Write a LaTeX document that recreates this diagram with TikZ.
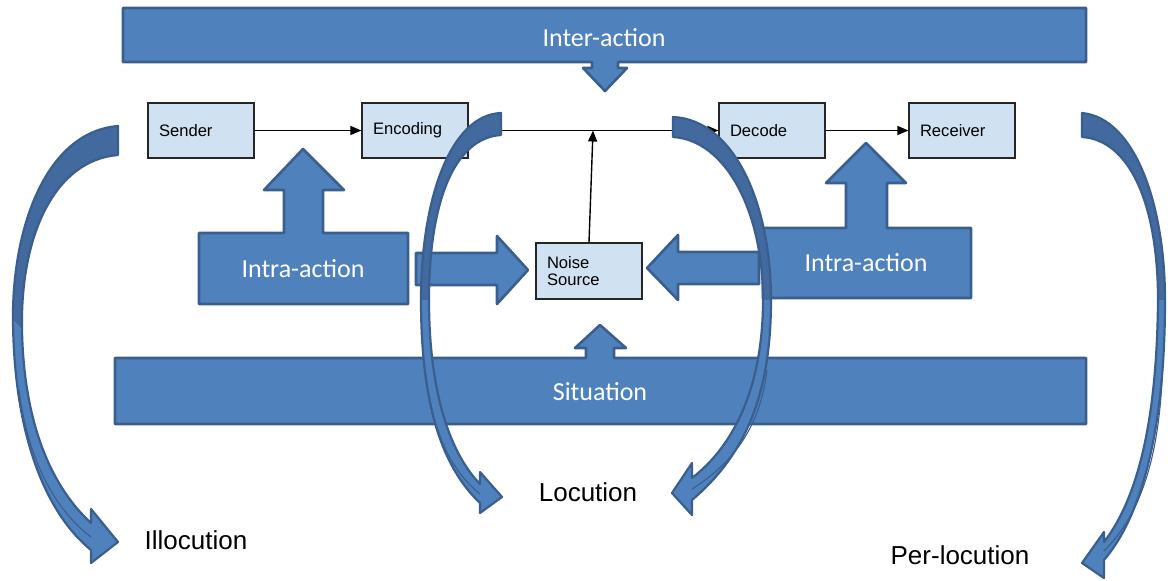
\documentclass[tikz,border=0pt]{standalone}
\usepackage{fontspec}
\setmainfont{Liberation Sans}
\newfontfamily\calibri{Carlito}
\usetikzlibrary{arrows.meta}
\definecolor{bfill}{HTML}{4F81BD}
\definecolor{bline}{HTML}{3A5F8E}
\definecolor{bdark}{HTML}{426A9F}
\definecolor{boxfill}{HTML}{D0E1F2}
\tikzset{
  blueshape/.style={fill=bfill, draw=bline, line width=2.6pt, line join=round},
  outlinepath/.style={draw=bline, line width=2.2pt, line join=round},
  foldline/.style={draw=bline, line width=1.1pt},
  procbox/.style={draw=black!85, fill=boxfill, line width=1.2pt, minimum width=106pt,
    minimum height=55pt, text width=84pt, align=left, inner sep=0pt,
    font=\fontsize{16.6}{18}\selectfont},
  whitelbl/.style={text=white, font=\calibri\fontsize{26}{28}\selectfont},
  blacklbl/.style={text=black, font=\fontsize{26}{28}\selectfont},
  conn/.style={line width=1.4pt, -{Triangle[length=11pt,width=9pt]}}
}
\begin{document}
\begin{tikzpicture}[x=1pt,y=-1pt]
\useasboundingbox (0,0) rectangle (1168,581);
\fill[white] (0,0) rectangle (1168,581);

% process boxes
\node[procbox] (sender)   at (201,130.5) {Sender};
\node[procbox] (encoding) at (415,130.5) {Encoding};
\node[procbox] (decode)   at (772,130.5) {Decode};
\node[procbox] (receiver) at (962,130.5) {Receiver};
\node[procbox, minimum height=56pt, font=\fontsize{16.6}{17.5}\selectfont] (noise) at (589,271) {Noise\\Source};
\coordinate (nj) at (593,130.5);

\draw[conn] (sender) -- (encoding);
\draw[conn] (encoding) -- (decode);
\draw[conn] (decode) -- (receiver);
\draw[conn] (noise.north) -- (nj);

% Inter-action bar with down arrow
\draw[blueshape] (123,8) -- (1086,8) -- (1086,62) -- (618,62) -- (618,68) -- (627,68)
  -- (605,91) -- (583,68) -- (592,68) -- (592,62) -- (123,62) -- cycle;
\node[whitelbl] (inter) at (604,38) {Inter-action};

% Situation bar with up arrow
\draw[blueshape] (115,358) -- (586,358) -- (586,348) -- (575,348) -- (600,325) -- (626,348)
  -- (614,348) -- (614,358) -- (1086,358) -- (1086,424) -- (115,424) -- cycle;
\node[whitelbl] (situation) at (600,392) {Situation};

% left Intra-action
\draw[blueshape] (199,233) -- (284,233) -- (284,190) -- (264,190) -- (303,149) -- (344,190)
  -- (323,190) -- (323,233) -- (408,233) -- (408,304) -- (199,304) -- cycle;
\node[whitelbl] (intraL) at (303,269) {Intra-action};
\draw[blueshape] (416,253) -- (497,253) -- (497,236) -- (528,270) -- (497,304) -- (497,285)
  -- (416,285) -- cycle;

% right Intra-action
\draw[blueshape] (763,228) -- (846,228) -- (846,183) -- (826,183) -- (866,143) -- (906,183)
  -- (887,183) -- (887,228) -- (971,228) -- (971,298) -- (763,298) -- cycle;
\node[whitelbl] (intraR) at (866,263) {Intra-action};
\draw[blueshape] (759,252) -- (678,252) -- (678,235) -- (647,268) -- (678,300) -- (678,284)
  -- (759,284) -- cycle;

% curved arrow 1 (Illocution)
\fill[bdark] (118,126) .. controls (45,132) and (12,230) .. (13,320) -- (22,330)
  .. controls (20,235) and (55,160) .. (118,155) -- cycle;
\fill[bfill] (13,320) .. controls (14,440) and (48,515) .. (91,550) -- (91,563) -- (118,542)
  -- (91,509) -- (91,523) .. controls (55,490) and (24,430) .. (22,330) -- cycle;
\draw[foldline] (19,390) .. controls (28,460) and (55,510) .. (91,537);
\draw[outlinepath] (118,126) .. controls (45,132) and (12,230) .. (13,320)
  .. controls (14,440) and (48,515) .. (91,550) -- (91,563) -- (118,542) -- (91,509) -- (91,523)
  .. controls (55,490) and (24,430) .. (22,330) .. controls (20,235) and (55,160) .. (118,155) -- cycle;

% curved arrow 2 (Locution, left)
\fill[bdark] (501,113) .. controls (450,115) and (421,200) .. (421,300) -- (429,300)
  .. controls (429,200) and (455,138) .. (501,135) -- cycle;
\fill[bfill] (421,300) .. controls (421,400) and (440,465) .. (480,503) -- (480,513) -- (502,497)
  -- (480,472) -- (480,484) .. controls (447,450) and (429,385) .. (429,300) -- cycle;
\draw[foldline] (425,370) .. controls (432,430) and (450,470) .. (480,494);
\draw[outlinepath] (501,113) .. controls (450,115) and (421,200) .. (421,300)
  .. controls (421,400) and (440,465) .. (480,503) -- (480,513) -- (502,497) -- (480,472) -- (480,484)
  .. controls (447,450) and (429,385) .. (429,300) .. controls (429,200) and (455,138) .. (501,135) -- cycle;

% curved arrow 3 (Locution, right)
\fill[bdark] (673,117) .. controls (735,120) and (771,205) .. (771,300) -- (763,300)
  .. controls (763,210) and (725,140) .. (673,137) -- cycle;
\fill[bfill] (771,300) .. controls (771,395) and (745,455) .. (692,500) -- (692,515) -- (672,493)
  -- (692,463) -- (692,478) .. controls (735,445) and (763,385) .. (763,300) -- cycle;
\draw[foldline] (767,370) .. controls (760,430) and (730,465) .. (692,489);
\draw[outlinepath] (673,117) .. controls (735,120) and (771,205) .. (771,300)
  .. controls (771,395) and (745,455) .. (692,500) -- (692,515) -- (672,493) -- (692,463) -- (692,478)
  .. controls (735,445) and (763,385) .. (763,300) .. controls (763,210) and (725,140) .. (673,137) -- cycle;

% curved arrow 4 (Per-locution)
\fill[bdark] (1082,113) .. controls (1135,118) and (1165,205) .. (1165,300) -- (1158,300)
  .. controls (1158,205) and (1130,140) .. (1082,137) -- cycle;
\fill[bfill] (1165,300) .. controls (1165,420) and (1145,512) .. (1104,560) -- (1104,578)
  -- (1082,563) -- (1104,532) -- (1104,542) .. controls (1138,498) and (1157,420) .. (1158,300) -- cycle;
\draw[foldline] (1162,380) .. controls (1158,460) and (1140,515) .. (1104,551);
\draw[outlinepath] (1082,113) .. controls (1135,118) and (1165,205) .. (1165,300)
  .. controls (1165,420) and (1145,512) .. (1104,560) -- (1104,578) -- (1082,563) -- (1104,532) -- (1104,542)
  .. controls (1138,498) and (1157,420) .. (1158,300) .. controls (1158,205) and (1130,140) .. (1082,137) -- cycle;

% labels
\node[blacklbl] (illoc) at (196,540) {Illocution};
\node[blacklbl] (loc)   at (588,492) {Locution};
\node[blacklbl] (perloc) at (960,555) {Per-locution};
\end{tikzpicture}
\end{document}
